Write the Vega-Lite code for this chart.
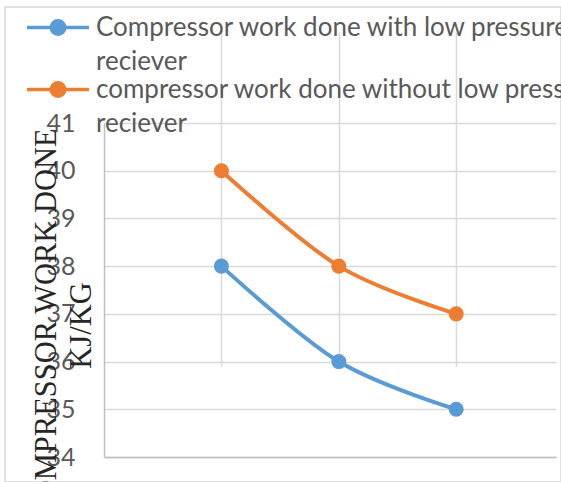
{
  "$schema": "https://vega.github.io/schema/vega-lite/v6.json",
  "width": 556,
  "height": 475,
  "autosize": {"type": "none"},
  "padding": {"left": 5, "top": 7, "right": 0, "bottom": 0},
  "background": "white",
  "config": {
    "view": {"stroke": "#d9d9d9", "strokeWidth": 1.5},
    "axis": {"gridColor": "#d9d9d9", "gridWidth": 1.5, "domainColor": "#bfbfbf", "domainWidth": 1.5}
  },
  "data": {
    "values": [
      {"step": 1, "work": 38, "series": "Compressor work done with low pressure reciever"},
      {"step": 2, "work": 36, "series": "Compressor work done with low pressure reciever"},
      {"step": 3, "work": 35, "series": "Compressor work done with low pressure reciever"},
      {"step": 1, "work": 40, "series": "compressor work done without low pressure reciever"},
      {"step": 2, "work": 38, "series": "compressor work done without low pressure reciever"},
      {"step": 3, "work": 37, "series": "compressor work done without low pressure reciever"}
    ]
  },
  "encoding": {
    "x": {
      "field": "step",
      "type": "quantitative",
      "scale": {"domain": [0, 3.85], "range": [99, 551], "nice": false, "zero": false},
      "axis": {
        "values": [1, 2, 3],
        "labels": false,
        "ticks": false,
        "title": null,
        "grid": true,
        "offset": -25
      }
    },
    "y": {
      "field": "work",
      "type": "quantitative",
      "scale": {"domain": [34, 41], "range": [450, 116], "nice": false, "zero": false},
      "axis": {
        "values": [34, 35, 36, 37, 38, 39, 40, 41],
        "ticks": false,
        "grid": true,
        "offset": -99,
        "labelFont": "Lato",
        "labelFontSize": 25,
        "labelColor": "#595959",
        "labelPadding": 29,
        "title": ["COMPRESSOR WORK DONE", "KJ/KG"],
        "titleFont": "Liberation Serif",
        "titleFontSize": 30.5,
        "titleFontWeight": "normal",
        "titleColor": "#262626",
        "titleAngle": 270,
        "titleAlign": "center",
        "titleBaseline": "alphabetic",
        "titleLineHeight": 35,
        "titleX": -49,
        "titleY": 318
      }
    },
    "color": {
      "field": "series",
      "type": "nominal",
      "scale": {
        "domain": ["Compressor work done with low pressure reciever", "compressor work done without low pressure reciever"],
        "range": ["#5b9bd5", "#ed7d31"]
      },
      "legend": {
        "title": null,
        "orient": "none",
        "legendX": 40,
        "legendY": 15.5,
        "padding": 0,
        "symbolType": "M-3.875,-1L3.875,-1M0.84,-1A0.84,0.84 0 1,1 -0.84,-1A0.84,0.84 0 1,1 0.84,-1Z",
        "symbolSize": 256,
        "symbolStrokeWidth": 3.5,
        "labelFont": "Lato",
        "labelFontSize": 26,
        "labelColor": "#595959",
        "labelLimit": 2000,
        "labelOffset": 25,
        "labelBaseline": "alphabetic",
        "rowPadding": 1,
        "labelExpr": "[substring(datum.label, 0, lastindexof(datum.label, ' ')), substring(datum.label, lastindexof(datum.label, ' ') + 1)]",
        "encode": {
          "symbols": {
            "update": {
              "fill": {"scale": "color", "field": "value"},
              "stroke": {"scale": "color", "field": "value"},
              "opacity": {"value": 1}
            }
          },
          "labels": {
            "update": {"lineHeight": {"value": 34}}
          }
        }
      }
    }
  },
  "layer": [
    {"mark": {"type": "line", "interpolate": "cardinal", "strokeWidth": 4}},
    {"mark": {"type": "point", "shape": "circle", "filled": true, "opacity": 1, "size": 227}}
  ]
}
